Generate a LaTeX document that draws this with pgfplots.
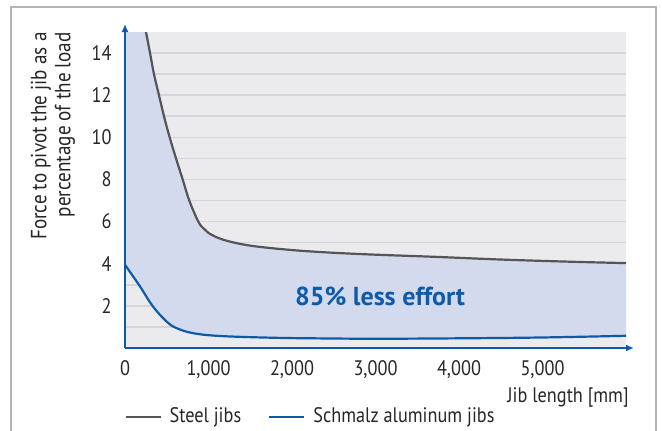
\documentclass[border=0pt]{standalone}
\usepackage{fontspec}
\setmainfont{PT Sans}[FakeStretch=0.87]
\newfontfamily\calloutfont{PT Sans}
\usepackage{pgfplots}
\pgfplotsset{compat=1.18}
\usepgfplotslibrary{fillbetween}
\usetikzlibrary{arrows.meta}

\definecolor{bggray}{HTML}{EBEBED}
\definecolor{gridgray}{HTML}{D6D6D8}
\definecolor{areablue}{HTML}{D3DAEE}
\definecolor{steelgray}{HTML}{555555}
\definecolor{schmalzblue}{HTML}{0D5BA8}
\definecolor{framegray}{HTML}{B4B4B4}

\begin{document}
\begin{tikzpicture}
\begin{axis}[
    name=ax,
    at={(0,0)}, anchor=south west,
    scale only axis,
    width=250.5pt, height=158pt,
    xmin=0, xmax=6000, ymin=0, ymax=15,
    axis line style={draw=none},
    axis background/.style={fill=bggray},
    xtick={0,1000,2000,3000,4000,5000},
    xticklabels={0,{1,000},{2,000},{3,000},{4,000},{5,000}},
    ytick={2,4,6,8,10,12,14},
    yticklabels={2,4,6,8,10,12,14},
    minor ytick={1,3,5,7,9,11,13},
    ymajorgrids, yminorgrids,
    major grid style={gridgray, line width=0.8pt},
    minor grid style={gridgray, line width=0.8pt},
    major tick length=0pt, minor tick length=0pt,
    tick label style={font=\fontsize{10.5}{12}\selectfont, text=black!85},
    xticklabel style={anchor=north, inner sep=0pt, yshift=-6pt},
    yticklabel style={anchor=east, inner sep=0pt, xshift=-6.5pt},
    xlabel={Jib length [mm]},
    xlabel style={at={(rel axis cs:1,0)}, anchor=north east, inner sep=0pt,
        yshift=-19.5pt, xshift=1.5pt, font=\fontsize{10.5}{12}\selectfont, text=black!85},
    legend columns=2,
    legend style={at={(rel axis cs:0,0)}, anchor=west, yshift=-34.5pt, xshift=-0.5pt,
        draw=none, fill=none, inner sep=0pt,
        font=\fontsize{10.5}{12}\selectfont, text=black!85,
        /tikz/every odd column/.append style={column sep=2pt},
        /tikz/every even column/.append style={column sep=11.5pt}},
    legend image code/.code={\draw[#1] (0pt,0pt) -- (17.5pt,0pt);},
]
% upper edge of the shaded band: top of the chart, then the steel curve
\addplot[draw=none, forget plot, name path=upper, smooth, tension=0.6] coordinates {
    (0,15) (251,15) (300,14) (347,13) (407,12) (467,11) (535,10) (611,9)
    (691,8) (770,7) (878,6) (940,5.68) (1000,5.46) (1177,5.14) (1500,4.86)
    (2000,4.65) (2500,4.52) (3000,4.43) (3700,4.33) (4500,4.2) (5300,4.1) (6000,4.03)
};
\addplot[draw=none, forget plot, name path=alu, smooth, tension=0.6] coordinates {
    (0,3.95) (180,2.92) (335,1.97) (500,1.25) (620,0.94) (820,0.70) (1140,0.57)
    (1740,0.49) (2250,0.46) (3000,0.44) (4000,0.46) (5000,0.5) (6000,0.58)
};
\addplot[areablue, forget plot] fill between[of=upper and alu];

\addplot[steelgray, line width=1.1pt, smooth, tension=0.6] coordinates {
    (251,15) (300,14) (347,13) (407,12) (467,11) (535,10) (611,9)
    (691,8) (770,7) (878,6) (940,5.68) (1000,5.46) (1177,5.14) (1500,4.86)
    (2000,4.65) (2500,4.52) (3000,4.43) (3700,4.33) (4500,4.2) (5300,4.1) (6000,4.03)
};
\addlegendentry{Steel jibs}
\addplot[schmalzblue, line width=1.1pt, smooth, tension=0.6] coordinates {
    (0,3.95) (180,2.92) (335,1.97) (500,1.25) (620,0.94) (820,0.70) (1140,0.57)
    (1740,0.49) (2250,0.46) (3000,0.44) (4000,0.46) (5000,0.5) (6000,0.58)
};
\addlegendentry{Schmalz aluminum jibs}

\node[text=schmalzblue, font=\calloutfont\bfseries\fontsize{13}{15}\selectfont]
    at (axis cs:3054,2.43) {85\% less effort};
\end{axis}
% axes with arrow heads
\draw[schmalzblue, line width=1pt, -{Latex[length=4pt,width=3.5pt]}]
    (ax.south west) -- ([yshift=4pt]ax.north west);
\draw[schmalzblue, line width=1pt, -{Latex[length=4pt,width=3.5pt]}]
    (ax.south west) -- ([xshift=4pt]ax.south east);
\node[rotate=90, anchor=east, align=right, inner sep=0pt,
    font=\fontsize{11}{12}\selectfont, text=black!85]
    at ([xshift=-36pt]ax.north west) {Force to pivot the jib as a\\percentage of the load};
% picture frame; axis origin at (0,0)
\draw[framegray, line width=0.8pt] (-57pt,-50pt) -- (-57pt,170.5pt) -- (265.5pt,170.5pt) -- (265.5pt,-50pt);
\pgfresetboundingbox
\useasboundingbox (-62.5pt,-41pt) rectangle (268.5pt,174pt);
\end{tikzpicture}
\end{document}
